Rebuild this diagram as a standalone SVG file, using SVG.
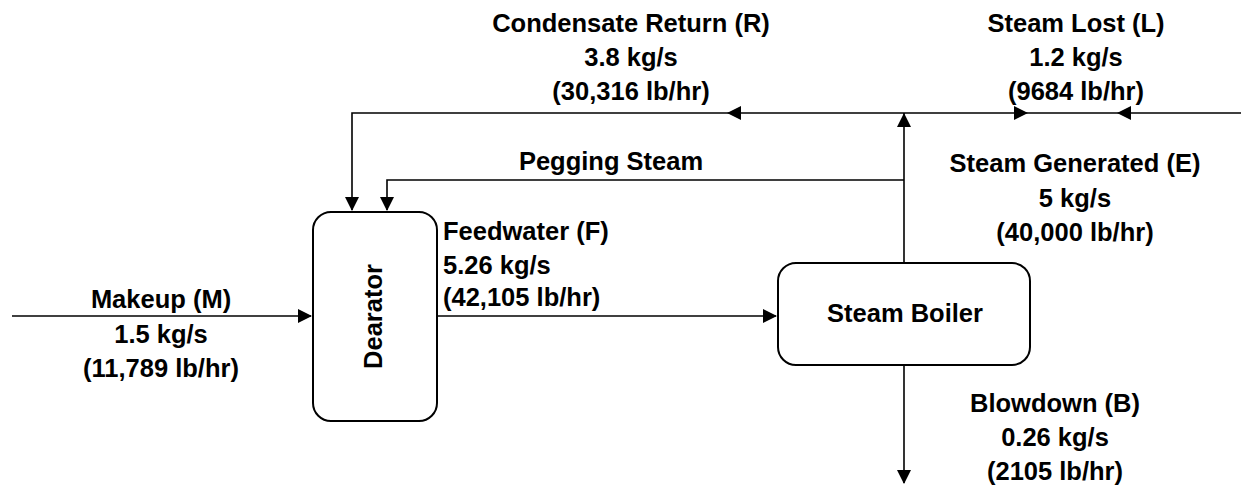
<svg xmlns="http://www.w3.org/2000/svg" width="1241" height="486" viewBox="0 0 1241 486">
<style>
.box{fill:#fff;stroke:#000;stroke-width:2}
.ln{fill:none;stroke:#000;stroke-width:1.6}
.ah{fill:#000}
text{font-family:"Liberation Sans",Arial,sans-serif;font-weight:bold;font-size:25.5px;fill:#000}
.c{text-anchor:middle}
</style>
<rect width="1241" height="486" fill="#fff"/>
<g id="connectors">
<path class="ln" d="M1241,113 H352 V210"/>
<path class="ln" d="M904,180 H387 V210"/>
<path class="ln" d="M904,263 V113"/>
<path class="ln" d="M12,316 H311"/>
<path class="ln" d="M437,316 H776"/>
<path class="ln" d="M904,365 V483"/>
<polygon class="ah" points="727,113 741,106 741,120"/>
<polygon class="ah" points="352,211 345,197 359,197"/>
<polygon class="ah" points="387,211 380,197 394,197"/>
<polygon class="ah" points="904,113 897,127 911,127"/>
<polygon class="ah" points="1028,113 1014,106 1014,120"/>
<polygon class="ah" points="1117,113 1131,106 1131,120"/>
<polygon class="ah" points="312,316 298,309 298,323"/>
<polygon class="ah" points="777,316 763,309 763,323"/>
<polygon class="ah" points="904,484 897,470 911,470"/>
</g>
<g id="dearator">
<rect class="box" x="313" y="212" width="124" height="209" rx="18" ry="18"/>
<text class="c" transform="translate(382,316.5) rotate(-90)">Dearator</text>
</g>
<g id="steam-boiler">
<rect class="box" x="778" y="263" width="252" height="102" rx="18" ry="18"/>
<text class="c" x="905" y="322">Steam Boiler</text>
</g>
<g id="label-condensate">
<text class="c" x="631" y="32">Condensate Return (R)</text>
<text class="c" x="631" y="66">3.8 kg/s</text>
<text class="c" x="631" y="100">(30,316 lb/hr)</text>
</g>
<g id="label-steam-lost">
<text class="c" x="1076" y="32">Steam Lost (L)</text>
<text class="c" x="1076" y="66">1.2 kg/s</text>
<text class="c" x="1076" y="100">(9684 lb/hr)</text>
</g>
<g id="label-pegging">
<text class="c" x="611" y="170">Pegging Steam</text>
</g>
<g id="label-steam-generated">
<text class="c" x="1075" y="172">Steam Generated (E)</text>
<text class="c" x="1075" y="207">5 kg/s</text>
<text class="c" x="1075" y="241">(40,000 lb/hr)</text>
</g>
<g id="label-feedwater">
<text x="443" y="240">Feedwater (F)</text>
<text x="443" y="274">5.26 kg/s</text>
<text x="443" y="306">(42,105 lb/hr)</text>
</g>
<g id="label-makeup">
<text class="c" x="161" y="308">Makeup (M)</text>
<text class="c" x="161" y="343">1.5 kg/s</text>
<text class="c" x="161" y="377">(11,789 lb/hr)</text>
</g>
<g id="label-blowdown">
<text class="c" x="1055" y="412">Blowdown (B)</text>
<text class="c" x="1055" y="446">0.26 kg/s</text>
<text class="c" x="1055" y="480">(2105 lb/hr)</text>
</g>
</svg>
